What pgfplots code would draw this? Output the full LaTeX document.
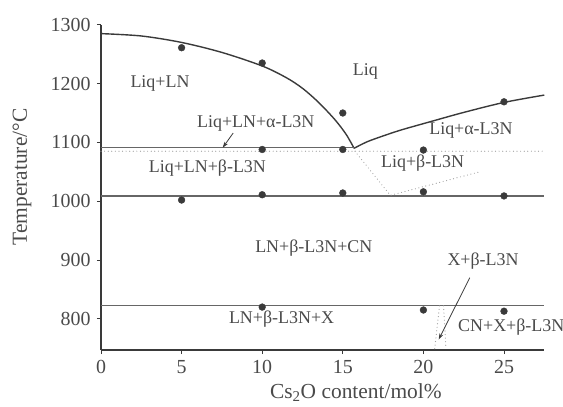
\documentclass[border=0pt]{standalone}
\usepackage{fontspec}
\setmainfont{Liberation Serif}
\usepackage{pgfplots}
\pgfplotsset{compat=1.18}
\usetikzlibrary{arrows.meta}
\definecolor{ink}{HTML}{3A3A3A}
\definecolor{txt}{HTML}{4A4A4A}
\definecolor{hl}{HTML}{666666}
\definecolor{dotc}{HTML}{A0A0A0}
\tikzset{lab/.style={font=\fontsize{18}{18}\selectfont, text=txt, inner sep=0pt},
  dotl/.style={dotc, line width=1.2pt, line cap=round, dash pattern=on 0pt off 3.6pt}}
\begin{document}
\begin{tikzpicture}
\useasboundingbox (-101bp,-57bp) rectangle (462bp,350bp);
\begin{axis}[
  scale only axis, width=443.3bp, height=325.2bp,
  xmin=0, xmax=27.5, ymin=747, ymax=1300,
  axis lines*=left,
  xtick={0,5,...,25}, ytick={800,900,...,1300},
  tick align=outside, major tick length=4bp,
  tick style={ink, line width=0.8pt},
  axis line style={ink, line width=1.3pt},
  ticklabel style={font=\fontsize{20}{20}\selectfont, text=txt},
  xticklabel style={yshift=-3bp},
  yticklabel style={xshift=-3bp},
  /pgf/number format/assume math mode=true,
  /pgf/number format/1000 sep={},
  xlabel={Cs\textsubscript{2}O content/mol\%},
  ylabel={Temperature/°C},
  label style={font=\fontsize{21.5}{21.5}\selectfont, text=txt},
  xlabel style={at={([yshift=-43bp]axis description cs:0.575,0)}, anchor=center},
  ylabel style={at={([xshift=-79bp]axis description cs:0,0.532)}, anchor=center},
  clip=false,
]
% liquidus curves
\addplot[ink, line width=1.4pt, smooth, tension=0.5] coordinates {(0,1285)(2.5,1281)(5,1270)(7.5,1253)(10,1230)(11.5,1210)(12.5,1192)(13.5,1168)(14.5,1139)(15.2,1114)(15.7,1090)};
\addplot[ink, line width=1.4pt, smooth, tension=0.5] coordinates {(15.7,1090)(16.5,1101)(17.5,1111)(18.6,1121)(20.4,1135)(22.5,1151)(25,1168)(27.5,1180.5)};
% horizontal lines
\addplot[hl, line width=1.2pt] coordinates {(0,1092)(15.7,1092)};
\addplot[dotl] coordinates {(0,1085)(27.5,1085)};
\addplot[hl, line width=1.2pt] coordinates {(0,1009)(27.5,1009)};
\addplot[hl, line width=1.2pt] coordinates {(0,822)(27.5,822)};
% dotted boundaries
\addplot[dotl] coordinates {(15.75,1085)(17.95,1010)(23.5,1050)};
\addplot[dotl] coordinates {(21.0,822)(20.7,749)};
\addplot[dotl] coordinates {(21.25,822)(21.4,749)};
% experimental points
\addplot[only marks, mark=*, mark size=3.4bp, mark options={fill=ink, draw=ink}] coordinates {
(5,1261)(10,1235)(15,1150)(25,1169)
(10,1088)(15,1088)(20,1087)
(5,1002)(10,1011)(15,1014)(20,1016)(25,1009)
(10,820)(20,815)(25,813)};
% arrows
\draw[-{Stealth[length=6bp,width=4bp]}, ink, line width=0.8pt] (axis cs:8.2,1116) -- (axis cs:7.55,1091);
\draw[-{Stealth[length=6bp,width=4bp]}, ink, line width=0.8pt] (axis cs:22.88,870) -- (axis cs:20.95,765);
% region labels
\node[lab] at (axis cs:3.66,1200) {Liq+LN};
\node[lab] at (axis cs:16.4,1220) {Liq};
\node[lab] at (axis cs:9.6,1132) {Liq+LN+α-L3N};
\node[lab] at (axis cs:22.95,1121) {Liq+α-L3N};
\node[lab] at (axis cs:6.6,1056) {Liq+LN+β-L3N};
\node[lab] at (axis cs:19.95,1064) {Liq+β-L3N};
\node[lab] at (axis cs:13.2,920) {LN+β-L3N+CN};
\node[lab] at (axis cs:23.7,899) {X+β-L3N};
\node[lab] at (axis cs:11.2,800) {LN+β-L3N+X};
\node[lab] at (axis cs:25.45,786) {CN+X+β-L3N};
\end{axis}
\end{tikzpicture}
\end{document}
